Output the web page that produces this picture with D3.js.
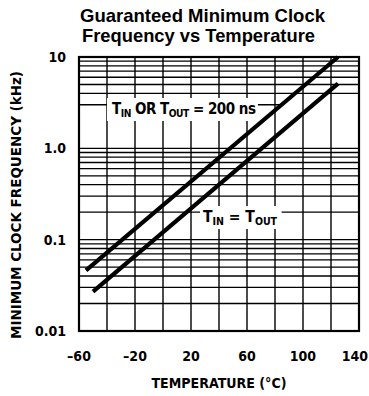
<!DOCTYPE html>
<html><head><meta charset="utf-8">
<script src="https://cdn.jsdelivr.net/npm/d3@7"></script>
<style>
html,body{margin:0;padding:0;background:#fff;}
svg{display:block;}
.cond{font-family:"Liberation Sans Narrow","DejaVu Sans Condensed","Arial Narrow",sans-serif;font-weight:bold;}
</style></head>
<body><svg id="c" width="369" height="396"></svg>
<script>
// ---- data ----
const xTickValues = [-60, -20, 20, 60, 100, 140];
const xGridValues = [-60, -40, -20, 0, 20, 40, 60, 80, 100, 120, 140];
const yTickValues = [0.01, 0.1, 1, 10];
const yTickLabels = ["0.01", "0.1", "1.0", "10"];
const yMinorGrid = [0.02,0.03,0.04,0.05,0.06,0.07,0.08,0.09,
                    0.2,0.3,0.4,0.5,0.6,0.7,0.8,0.9,
                    3,4,5,6,7,8,9];
const yMinorGridEnd = {3: 85}; // temperature where the line stops
const upperTemp = [-55, 125];
const upperFreq = [0.046, 10];
const lowerTemp = [-50, 125];
const lowerFreq = [0.027, 5.1];

const svg = d3.select("#c");
const x = d3.scaleLinear().domain([-60, 140]).range([79, 359]);
const y = d3.scaleLog().domain([0.01, 10]).range([331, 57]);

// grid
const g = svg.append("g").attr("stroke", "#000").attr("fill", "none");
g.selectAll("line.vg").data(xGridValues).join("line")
  .attr("x1", d => x(d)).attr("x2", d => x(d)).attr("y1", y(10)).attr("y2", y(0.01))
  .attr("stroke-width", 1.4);
g.selectAll("line.hg").data(yMinorGrid.concat(yTickValues)).join("line")
  .attr("x1", x(-60)).attr("x2", d => x(yMinorGridEnd[d] !== undefined ? yMinorGridEnd[d] : 140))
  .attr("y1", d => y(d)).attr("y2", d => y(d))
  .attr("stroke-width", 1.3);
// border
svg.append("rect").attr("x", x(-60)).attr("y", y(10))
  .attr("width", x(140) - x(-60)).attr("height", y(0.01) - y(10))
  .attr("fill", "none").attr("stroke", "#000").attr("stroke-width", 2.2);

// series
const line = d3.line().x(d => x(d[0])).y(d => y(d[1]));
[[upperTemp, upperFreq], [lowerTemp, lowerFreq]].forEach(([t, f]) => {
  svg.append("path").datum(t.map((v, i) => [v, f[i]])).attr("d", line)
    .attr("fill", "none").attr("stroke", "#000").attr("stroke-width", 4.2);
});

// labels with white box
function label(xp, yp, parts, pad, fs, ls) {
  const grp = svg.append("g");
  const rect = grp.append("rect").attr("fill", "#fff");
  const t = grp.append("text").attr("class", "cond").attr("x", xp).attr("y", yp)
    .attr("font-size", fs).attr("fill", "#000").attr("letter-spacing", ls);
  parts.forEach(p => {
    t.append("tspan").text(p[0]).attr("font-size", p[1] === 1 ? fs * 0.68 : fs)
      .attr("dy", p[1] === 1 ? 3 : (p[1] === -1 ? -3 : 0));
  });
  const b = t.node().getBBox();
  rect.attr("x", b.x - pad[0]).attr("y", b.y - pad[1]).attr("width", b.width + pad[0] + pad[2])
    .attr("height", b.height + pad[1] * 2);
}
label(112, 114, [["T",0],["IN",1],[" OR T",-1],["OUT",1],[" = 200 ns",-1]], [5, 2, 2], 15, -0.5);
label(203, 222, [["T",0],["IN",1],[" = T",-1],["OUT",1]], [3, 2, 4], 15.5, 0);

// tick labels
svg.selectAll("text.yt").data(yTickValues).join("text").attr("class", "cond")
  .attr("x", 66).attr("y", d => y(d) + 5).attr("text-anchor", "end")
  .attr("font-size", 14).text((d, i) => yTickLabels[i]);
svg.selectAll("text.xt").data(xTickValues).join("text").attr("class", "cond")
  .attr("x", d => d === 140 ? 368 : x(d)).attr("y", 361)
  .attr("text-anchor", d => d === 140 ? "end" : "middle")
  .attr("font-size", 14).text(d => d < 0 ? "\u2013" + Math.abs(d) : d);

// axis titles
svg.append("text").attr("class", "cond").attr("x", 219).attr("y", 388)
  .attr("text-anchor", "middle").attr("font-size", 14)
  .attr("textLength", 135).attr("lengthAdjust", "spacingAndGlyphs").text("TEMPERATURE (\u00B0C)");
svg.append("text").attr("class", "cond").attr("transform", "translate(21,205) rotate(-90)")
  .attr("text-anchor", "middle").attr("font-size", 13.5)
  .attr("textLength", 268).attr("lengthAdjust", "spacingAndGlyphs").text("MINIMUM CLOCK FREQUENCY (kHz)");

// title
svg.append("text").attr("x", 80).attr("y", 22).attr("font-family", "'Liberation Sans',Arial,sans-serif")
  .attr("font-weight", "bold").attr("font-size", 18.5)
  .attr("textLength", 245).attr("lengthAdjust", "spacingAndGlyphs").text("Guaranteed Minimum Clock");
svg.append("text").attr("x", 82).attr("y", 42).attr("font-family", "'Liberation Sans',Arial,sans-serif")
  .attr("font-weight", "bold").attr("font-size", 18.5)
  .attr("textLength", 233).attr("lengthAdjust", "spacingAndGlyphs").text("Frequency vs Temperature");
</script></body></html>
